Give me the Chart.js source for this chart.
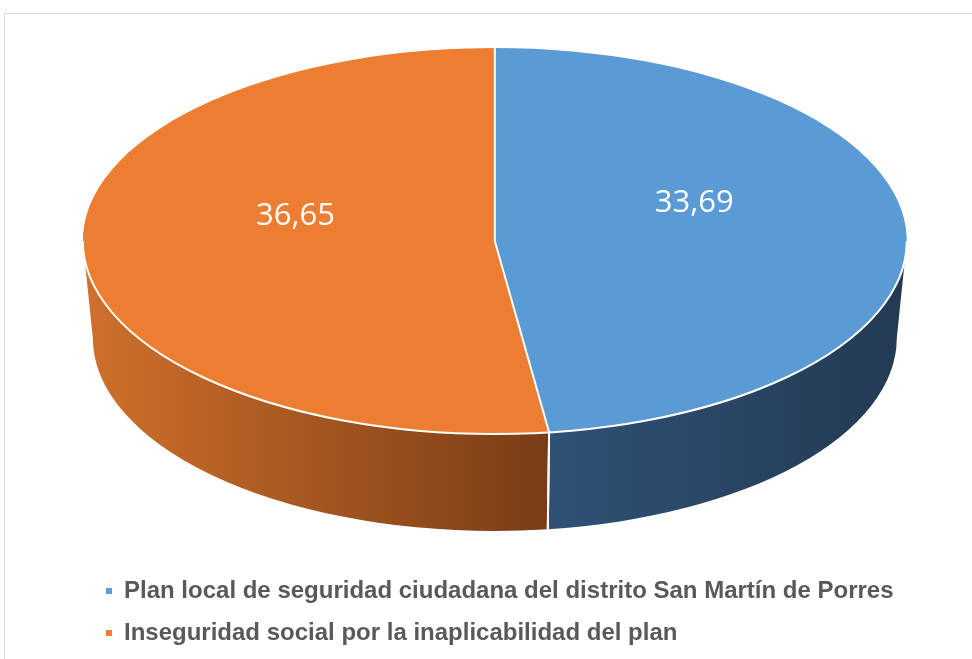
<!DOCTYPE html>
<html>
<head>
<meta charset="utf-8">
<script src="https://cdn.jsdelivr.net/npm/chart.js@4.4.0/dist/chart.umd.min.js"></script>
<style>
  html, body { margin: 0; padding: 0; background: #fff; }
  #wrap { position: relative; width: 972px; height: 659px; overflow: hidden; }
  #marco { position: absolute; left: 4px; top: 13px; width: 1000px; height: 700px; border: 1.5px solid #d9d9d9; box-sizing: border-box; }
  #grafico { position: absolute; left: 0; top: 0; }
</style>
</head>
<body>
<div id="wrap">
  <div id="marco"></div>
  <canvas id="grafico" width="972" height="659"></canvas>
</div>
<script>
const categorias = [
  'Plan local de seguridad ciudadana del distrito San Martín de Porres',
  'Inseguridad social por la inaplicabilidad del plan'
];
const valores = [33.69, 36.65];
const coloresTapa = ['#5B9BD5', '#ED7D31'];
const coloresCanto = [['#2F5175', '#233A52'], ['#D0702B', '#793C16']];

// elipse de la tapa y base del canto (pixeles de pantalla)
const TAPA = { cx: 494.8, cy: 241, rx: 412, ry: 193 };
const BASE = { rx: 402, ry: 193, dy: 97 };
const SUBE_ETIQUETA = 31;
const RADIO_ETIQUETA = 0.97;

function qs(sel){return document.querySelector(sel);}

// circulo de chart.js -> elipse
function aElipse(arc, x, y) {
  return {
    x: TAPA.cx + (x - arc.x) * TAPA.rx / arc.outerRadius,
    y: TAPA.cy + (y - arc.y) * TAPA.ry / arc.outerRadius
  };
}

// tramos visibles del canto (mitad delantera, 0..PI)
function tramosFrente(s, e) {
  const out = [];
  for (let k = -1; k <= 1; k++) {
    const a = Math.max(s, 2 * Math.PI * k), b = Math.min(e, 2 * Math.PI * k + Math.PI);
    if (b > a) out.push([a, b]);
  }
  return out;
}

const pastel3d = {
  id: 'pastel3d',
  beforeDatasetsDraw(chart) {
    const ctx = chart.ctx;
    const arcs = chart.getDatasetMeta(0).data;
    if (!arcs.length) return;
    const { cx, cy, rx, ry } = TAPA;
    const by = cy + BASE.dy;

    // canto
    arcs.forEach((arc, i) => {
      tramosFrente(arc.startAngle, arc.endAngle).forEach(([a, b]) => {
        let x0 = Infinity, x1 = -Infinity;
        for (let t = a; t <= b; t += 0.01) {
          const x = cx + rx * Math.cos(t);
          x0 = Math.min(x0, x); x1 = Math.max(x1, x);
        }
        const g = ctx.createLinearGradient(x0, 0, x1, 0);
        g.addColorStop(0, coloresCanto[i][0]);
        g.addColorStop(1, coloresCanto[i][1]);
        ctx.beginPath();
        ctx.ellipse(cx, cy, rx, ry, 0, a, b, false);
        ctx.lineTo(cx + BASE.rx * Math.cos(b), by + BASE.ry * Math.sin(b));
        ctx.ellipse(cx, by, BASE.rx, BASE.ry, 0, b, a, true);
        ctx.closePath();
        ctx.fillStyle = g;
        ctx.fill();
      });
    });

    // separadores verticales del canto
    ctx.save();
    ctx.strokeStyle = '#fff';
    ctx.lineWidth = 2;
    arcs.forEach(arc => {
      [arc.startAngle, arc.endAngle].forEach(t => {
        const n = ((t % (2 * Math.PI)) + 2 * Math.PI) % (2 * Math.PI);
        if (n > 0.001 && n < Math.PI - 0.001) {
          ctx.beginPath();
          ctx.moveTo(cx + rx * Math.cos(n), cy + ry * Math.sin(n));
          ctx.lineTo(cx + BASE.rx * Math.cos(n), by + BASE.ry * Math.sin(n));
          ctx.stroke();
        }
      });
    });
    ctx.restore();

    // la tapa se dibuja aplastada
    const a0 = arcs[0];
    ctx.save();
    ctx.translate(cx, cy);
    ctx.scale(rx / a0.outerRadius, ry / a0.outerRadius);
    ctx.translate(-a0.x, -a0.y);
  },
  afterDatasetsDraw(chart) {
    const ctx = chart.ctx;
    const arcs = chart.getDatasetMeta(0).data;
    if (!arcs.length) return;
    ctx.restore();
    const { cx, cy, rx, ry } = TAPA;

    ctx.save();
    ctx.strokeStyle = '#fff';
    ctx.lineWidth = 2;
    // borde delantero
    ctx.beginPath();
    ctx.ellipse(cx, cy, rx, ry, 0, 0, Math.PI, false);
    ctx.stroke();
    // radios
    arcs.forEach(arc => {
      ctx.beginPath();
      ctx.moveTo(cx, cy);
      ctx.lineTo(cx + rx * Math.cos(arc.startAngle), cy + ry * Math.sin(arc.startAngle));
      ctx.stroke();
    });

    // etiquetas
    ctx.fillStyle = '#fff';
    ctx.font = '31px "Open Sans"';
    ctx.textAlign = 'center';
    ctx.textBaseline = 'middle';
    arcs.forEach((arc, i) => {
      const c = arc.tooltipPosition();
      const p = aElipse(arc, c.x, c.y);
      const x = cx + (p.x - cx) * RADIO_ETIQUETA;
      ctx.fillText(valores[i].toFixed(2).replace('.', ','), x, p.y - SUBE_ETIQUETA);
    });
    ctx.restore();
  }
};

new Chart(qs('#grafico'), {
  type: 'pie',
  data: {
    labels: categorias,
    datasets: [{
      data: valores,
      backgroundColor: coloresTapa,
      borderWidth: 0,
      clip: false
    }]
  },
  options: {
    responsive: false,
    devicePixelRatio: 1,
    animation: false,
    layout: { padding: { left: 88, top: 20, bottom: 4 } },
    plugins: {
      legend: {
        position: 'bottom',
        align: 'start',
        labels: {
          boxWidth: 6,
          boxHeight: 6,
          padding: 18,
          color: '#595959',
          font: { family: 'Liberation Sans', size: 24, weight: 'bold' }
        }
      },
      tooltip: { enabled: false }
    }
  },
  plugins: [pastel3d]
});
</script>
</body>
</html>
